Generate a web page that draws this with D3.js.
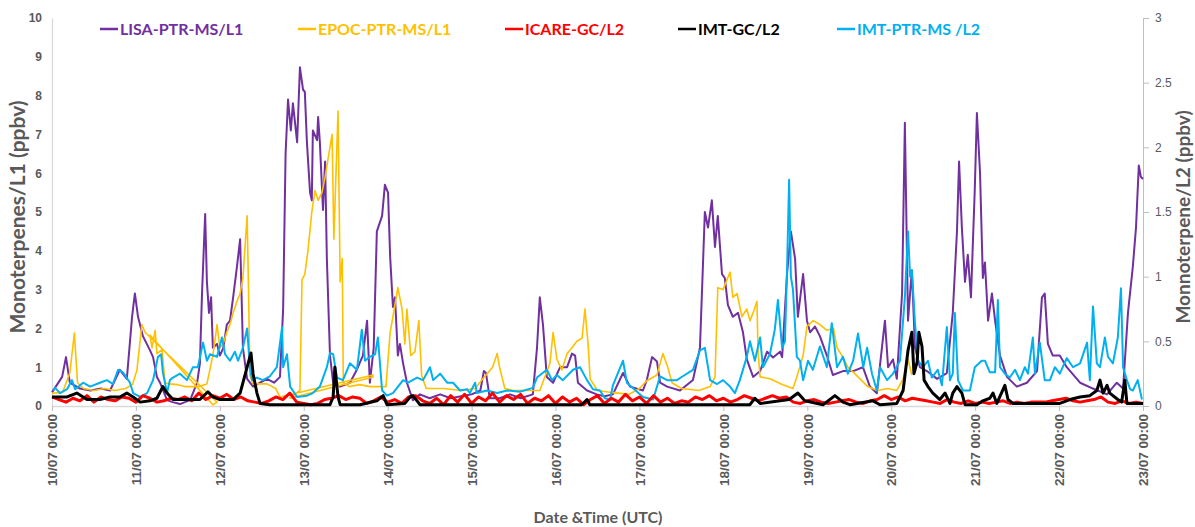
<!DOCTYPE html>
<html>
<head>
<meta charset="utf-8">
<script src="https://cdn.jsdelivr.net/npm/d3@7"></script>
<style>
  html, body { margin: 0; padding: 0; background: #ffffff; }
  svg { display: block; font-family: Lato, "Open Sans", "DejaVu Sans", sans-serif; }
</style>
</head>
<body>
<svg id="chart" width="1195" height="527"></svg>
<script>
// Time is given in hours since 10/07 00:00 (UTC).
const tickLabels = ["10/07 00:00","11/07 00:00","12/07 00:00","13/07 00:00","14/07 00:00","15/07 00:00","16/07 00:00",
  "17/07 00:00","18/07 00:00","19/07 00:00","20/07 00:00","21/07 00:00","22/07 00:00","23/07 00:00"];
const leftTicks = [0,1,2,3,4,5,6,7,8,9,10];
const rightTicks = [0,0.5,1,1.5,2,2.5,3];
const seriesNames = ["LISA-PTR-MS/L1","EPOC-PTR-MS/L1","ICARE-GC/L2","IMT-GC/L2","IMT-PTR-MS /L2"];

// LISA-PTR-MS, site L1 (ppbv) — [hour, value]
const lisa = [[0,0.35],[2.9,0.75],[4,1.26],[5.1,0.6],[8,0.45],[11,0.4],[14,0.45],[16.6,0.4],[19.4,0.93],[21.4,0.7],
  [22.9,2.3],[23.7,2.9],[24.6,2.3],[26,1.8],[28,1.44],[28.9,1.26],[30,0.75],[30.9,0.6],[32.9,0.15],[34.5,0.1],[36.6,0.05],
  [38,0.1],[39.5,0.15],[41.5,0.6],[42.3,1.1],[42.9,2.9],[43.8,4.95],[44.3,3.2],[44.9,2.4],[45.5,2.8],[46,1.5],[47.2,1.6],
  [48,1.3],[49,1.5],[50,2.1],[50.9,2.2],[51.8,2.8],[52.9,3.6],[53.8,4.3],[54.6,1.5],[55.8,0.7],[57.5,0.5],[59.5,0.6],
  [61.5,0.7],[63.5,0.6],[65.2,0.75],[66.1,2.5],[66.8,6.5],[67.5,7.9],[68.3,7.1],[68.9,7.8],[70.1,6.8],[70.9,8.73],
  [71.8,8.15],[72.3,8.1],[72.9,6.8],[73.8,5.5],[74.3,5.3],[74.6,7.1],[75.8,6.85],[76.1,7.45],[76.6,6.8],[77.5,5.05],
  [78.1,6.3],[78.6,3.8],[79.5,1.3],[80.4,0.6],[82.4,0.5],[85.2,0.6],[87,0.9],[88.9,1.3],[90.1,2.2],[90.9,0.6],[92,1.5],
  [92.9,4.5],[94.4,4.9],[95.2,5.7],[96.1,5.5],[96.7,3.85],[97.5,2.55],[98.1,2.8],[98.9,1.3],[99.5,1.6],[100.4,1.1],
  [101.5,0.6],[103.2,0.15],[105.2,0.3],[108,0.2],[111,0.3],[114,0.2],[117,0.25],[120,0.3],[122.5,0.4],[123.5,0.9],
  [124.1,0.85],[125.2,0.2],[128,0.2],[131,0.3],[134,0.2],[137.5,0.3],[138.7,1.5],[139.5,2.8],[140.4,2.1],[141.5,0.75],
  [143.3,0.6],[145.3,1.0],[147.3,1.0],[148.7,1.35],[149.6,1.3],[150.4,0.6],[153,0.4],[155.8,0.3],[158,0.25],[160.4,0.3],
  [163.3,0.85],[165.3,0.5],[169,0.4],[170.1,0.67],[171.6,1.26],[173,1.15],[173.9,0.6],[175.9,0.5],[179.6,0.4],[183.3,0.67],
  [185.3,1.5],[186.7,5.0],[187.6,4.6],[188.7,5.3],[189.6,4.1],[190.4,4.9],[191.6,3.4],[192.4,3.3],[193.3,2.6],[194.7,2.3],
  [196.2,2.4],[197.6,1.9],[198.7,1.2],[200.5,0.75],[202.5,0.9],[204.5,1.4],[206.2,1.25],[208.2,1.4],[208.8,1.26],
  [210.2,3.4],[211.3,4.5],[212.5,3.8],[213.3,2.3],[214.8,3.4],[215.9,2.2],[216.8,1.9],[218.2,2.05],[219.6,1.8],[221.6,1.3],
  [223.3,0.8],[226.2,0.9],[229.1,0.9],[231.9,1.0],[233.9,0.5],[235.9,0.33],[238.2,2.2],[239.1,1.0],[240.5,1.2],[241.6,0.7],
  [243.1,2.9],[243.9,7.3],[244.8,2.2],[245.9,3.5],[246.8,1.5],[248.2,1.0],[250.2,0.9],[253.1,0.7],[255.9,0.85],[257.6,2.4],
  [258.8,4.5],[259.4,6.3],[260.2,4.6],[261.1,3.2],[261.9,3.9],[262.8,2.8],[263.9,5.6],[264.5,7.55],[265.4,6.0],[266.2,3.3],
  [266.8,3.7],[267.7,2.2],[268.8,2.9],[269.7,2.2],[271.1,1.3],[273.1,0.75],[275.9,0.5],[278.8,0.6],[281.7,0.9],[283.1,2.8],
  [283.9,2.9],[284.8,1.6],[286.2,1.3],[288.2,1.3],[290.2,1.0],[294,0.6],[297.7,0.45],[301.7,0.3],[304.5,0.6],[306.3,0.45],
  [307.7,2.4],[309.1,3.6],[310,4.6],[310.8,6.2],[311.4,5.9],[312,5.85]];

// EPOC-PTR-MS, site L1 (ppbv) — rows kept in logged order (some rows are out of time order)
const epoc = [[0,0.33],[3,0.35],[5.1,0.85],[6.4,1.88],[7.3,0.6],[9,0.45],[12,0.4],[15,0.45],[18,0.4],[21,0.45],[23,0.55],
  [24.3,0.93],[25.7,2.1],[26.6,1.9],[47.2,0.1],[46,0.03],[28,1.83],[28.6,1.5],[29.5,1.95],[30,1.35],[31.5,1.45],[32.3,0.6],
  [33.5,0.57],[36,0.55],[38,0.5],[42,0.5],[44.3,0.57],[46,1.3],[47.2,2.1],[48,1.5],[48.9,1.6],[50,1.9],[50.9,2.1],
  [51.8,2.4],[52.9,2.7],[53.8,2.9],[54.6,3.3],[55.8,4.9],[56.1,3.5],[56.6,0.8],[57.5,0.57],[61.5,0.57],[64,0.45],
  [65.2,0.23],[91.8,0.8],[91.8,0.75],[68,0.2],[70.9,0.4],[71.5,3.25],[72.3,3.4],[73.2,4.0],[74.3,5.0],[75.2,5.55],
  [76.1,5.3],[77.2,5.5],[78.1,5.9],[79,6.4],[80.1,7.0],[80.6,4.3],[81.8,7.6],[82.4,3.2],[83,3.8],[83.3,0.6],[85,0.5],
  [88,0.55],[91,0.5],[94,0.5],[95.5,0.5],[96.7,1.9],[97.5,2.3],[98.9,3.05],[100.1,2.5],[100.9,1.6],[101.5,2.5],[102.6,1.3],
  [103.8,1.4],[104.9,2.2],[105.7,0.8],[107,0.45],[112,0.45],[117,0.4],[121,0.45],[123.2,0.7],[126,1.0],[127.3,1.35],
  [128,1.0],[129.5,0.45],[132,0.4],[137,0.4],[139.5,0.4],[142.4,1.1],[143.3,1.9],[144.4,1.2],[145.8,0.93],[147.3,1.35],
  [148.7,1.5],[150.1,1.67],[151.6,1.75],[152.4,2.5],[153.3,1.6],[153.9,0.7],[156,0.4],[160,0.35],[165,0.3],[168,0.45],
  [170.1,0.65],[173,0.8],[174.7,1.35],[176.1,1.0],[177.3,0.6],[180,0.45],[185,0.4],[188.2,0.5],[189.6,0.75],[190.4,3.05],
  [191.9,3.0],[193.9,3.45],[194.7,2.8],[195.9,2.9],[197.3,2.3],[198.7,2.5],[199.6,2.2],[200.5,2.4],[201.6,2.7],[201.9,1.4],
  [202.5,0.75],[205.3,0.7],[209,0.55],[211.9,0.45],[213,0.75],[214.8,1.3],[215.9,2.05],[217.7,2.2],[219.6,2.1],[221.6,1.95],
  [223.5,2.0],[224.5,1.5],[225.9,1.3],[227.6,1.0],[230.5,0.75],[233.3,0.5],[236,0.4],[239,0.45],[241.6,0.4],[243.4,0.7],
  [244.8,1.2],[245.9,0.8]];

// ICARE-GC, site L2 (ppbv) — one value every 2 hours from 10/07 00:00
const icareStepHours = 2;
const icare = [.07,.05,.03,.06,.04,.08,.03,.07,.05,.04, .07,.06,.03,.08,.06,.03,.04,.06,.05,.07,
  .04,.1,.05,.08,.06,.09,.05,.07,.04,.03, .02,.04,.07,.05,.1,.03,.02,.01,.02,.05,
  .06,.08,.05,.07,.06,.02,.04,.07,.03,.05, .02,.07,.08,.04,.02,.06,.01,.08,.03,.09,
  .02,.07,.04,.1,.03,.08,.05,.09,.02,.06, .04,.08,.02,.07,.03,.06,.01,.05,.08,.02,
  .06,.03,.09,.04,.07,.02,.08,.03,.06,.02, .04,.03,.07,.05,.08,.04,.06,.03,.05,.08,
  .06,.04,.06,.08,.06,.07,.03,.02,.04,.05, .03,.02,.03,.04,.05,.03,.02,.04,.05,.08,
  .05,.07,.04,.06,.05,.04,.03,.02,.05,.03, .02,.04,.02,.03,.02,.03,.04,.02,.03,.02,
  .03,.03,.03,.04,.05,.06,.04,.03,.04,.05, .07,.03,.02,.04,.02,.03,.02];

// IMT-GC, site L2 (ppbv) — [hour, value]
const imtGc = [[0,0.07],[4.3,0.07],[7.1,0.1],[10,0.05],[13.7,0.05],[16.6,0.07],[19.4,0.07],[21.4,0.1],[23.2,0.07],
  [25.2,0.03],[28,0.04],[30,0.06],[31.7,0.15],[32.9,0.1],[34.6,0.05],[38.6,0.05],[42.3,0.05],[44.6,0.11],[46,0.07],
  [48,0.05],[51.8,0.05],[53.8,0.1],[55.8,0.3],[56.9,0.41],[57.5,0.25],[58.6,0.1],[59.5,0.02],[62.3,0.01],[70.9,0.01],
  [79.5,0.01],[80.4,0.07],[80.9,0.3],[81.8,0.07],[82.4,0.01],[88.1,0.01],[92.9,0.04],[94.7,0.08],[95.8,0.01],[100.9,0.02],
  [102.4,0.07],[103.2,0.08],[104.4,0.04],[105.2,0.01],[130,0.01],[151.5,0.01],[153,0.05],[153.8,0.01],[180,0.01],
  [199.6,0.01],[201,0.06],[202.5,0.02],[210.8,0.05],[213.3,0.1],[215.3,0.04],[220.5,0.01],[223.9,0.08],[226.2,0.03],
  [228.2,0.01],[234.8,0.04],[236.8,0.01],[241.6,0.02],[243.4,0.12],[244.8,0.43],[245.9,0.57],[246.5,0.25],[247.4,0.34],
  [247.9,0.57],[248.8,0.46],[249.4,0.2],[250.5,0.15],[251.9,0.1],[253.9,0.05],[255.4,0.1],[256.8,0.02],[257.6,0.1],
  [258.8,0.15],[260.2,0.1],[261.1,0.01],[264.5,0.01],[266.2,0.04],[268.2,0.06],[269.1,0.1],[270.2,0.02],[272.5,0.16],
  [273.4,0.05],[274.8,0.02],[288.2,0.02],[291.1,0.05],[294,0.07],[296.8,0.08],[298.8,0.12],[299.7,0.2],[300.6,0.1],
  [301.7,0.16],[302.5,0.1],[304.8,0.05],[305.9,0.03],[306.8,0.2],[307.4,0.02],[312,0.02]];

// IMT-PTR-MS, site L2 (ppbv) — [hour, value]
const imtPtr = [[0.3,0.12],[0.9,0.14],[2.3,0.1],[4.3,0.13],[5.7,0.2],[6.6,0.13],[8.9,0.18],[10.9,0.15],[13.7,0.18],
  [15.7,0.2],[17.4,0.17],[18.9,0.28],[20.3,0.26],[22.3,0.18],[23.2,0.1],[25.2,0.07],[27.2,0.1],[28.9,0.2],[30.3,0.38],
  [31.2,0.4],[31.7,0.26],[32.9,0.1],[33.7,0.2],[34.6,0.22],[36.6,0.25],[38.6,0.2],[40.3,0.3],[41.7,0.3],[43.2,0.49],
  [44.3,0.35],[45.2,0.4],[47.2,0.38],[48.6,0.53],[49.5,0.4],[50.9,0.35],[52.3,0.42],[53.2,0.35],[54.6,0.45],[55.8,0.6],
  [56.6,0.3],[57.2,0.2],[58.6,0.22],[60.3,0.2],[62.3,0.23],[64.3,0.3],[65.8,0.61],[66.1,0.3],[67.2,0.4],[68.1,0.15],
  [70.1,0.07],[72.9,0.08],[74.6,0.1],[76.6,0.15],[78.6,0.3],[79.5,0.41],[80.4,0.4],[81.5,0.22],[83.2,0.2],[85.2,0.33],
  [87.2,0.28],[88.6,0.59],[89.5,0.35],[90.9,0.38],[92.4,0.4],[93.2,0.53],[94.4,0.12],[95.8,0.08],[97.5,0.1],[100.4,0.2],
  [101.8,0.18],[104.4,0.22],[106.1,0.2],[108.1,0.3],[109,0.2],[111,0.25],[113,0.18],[114.7,0.18],[116.7,0.12],[118.7,0.13],
  [119.5,0.1],[121,0.18],[121.5,0.1],[124.4,0.12],[127.3,0.1],[130.1,0.12],[133.8,0.11],[137.5,0.14],[138.7,0.22],
  [141.5,0.28],[143,0.2],[144.4,0.24],[146.1,0.2],[149,0.28],[151,0.3],[153,0.2],[154.7,0.13],[156.7,0.12],[158.1,0.06],
  [159.6,0.05],[160.4,0.16],[163.3,0.35],[164.4,0.18],[166.1,0.14],[169,0.07],[171.9,0.05],[173.9,0.23],[175.9,0.2],
  [178.7,0.2],[180.4,0.23],[183.3,0.28],[185.3,0.43],[186.7,0.45],[188.2,0.2],[190.2,0.17],[191.9,0.2],[193.9,0.15],
  [195.3,0.1],[196.7,0.2],[198.7,0.38],[199.6,0.5],[201,0.35],[202.5,0.53],[203.3,0.3],[205.3,0.4],[206.7,0.59],
  [207.6,0.82],[208.8,0.45],[209.6,0.5],[210.2,1.05],[210.8,1.75],[211.3,1.0],[211.9,0.9],[213,0.38],[213.9,0.35],
  [214.8,0.2],[216.2,0.35],[217.6,0.28],[219.6,0.46],[221.6,0.3],[223,0.64],[224.5,0.3],[226.2,0.38],[227.6,0.25],
  [229.1,0.35],[230.5,0.56],[232,0.3],[233.1,0.45],[234.5,0.25],[235.9,0.12],[236.8,0.3],[238.8,0.2],[240.5,0.25],
  [242.5,0.35],[243.9,0.84],[244.8,1.35],[245.4,1.0],[245.9,1.05],[246.8,0.64],[247.7,0.35],[249.1,0.3],[250.5,0.35],
  [251.6,0.22],[253.3,0.28],[254.5,0.16],[255.9,0.61],[256.8,0.2],[257.6,0.25],[258.2,0.72],[259.1,0.2],[260.5,0.12],
  [262.5,0.12],[263.9,0.3],[265.9,0.35],[266.8,0.35],[268.2,0.26],[269.7,0.26],[270.5,0.82],[271.1,0.3],[272.5,0.25],
  [273.9,0.22],[275.4,0.28],[276.8,0.2],[278.2,0.3],[279.1,0.25],[280.5,0.53],[281.1,0.25],[282.5,0.49],[283.9,0.2],
  [285.4,0.2],[286.8,0.3],[288.2,0.25],[290.2,0.37],[292,0.3],[294,0.33],[296,0.49],[296.8,0.2],[297.7,0.77],[298.8,0.33],
  [299.7,0.3],[301.1,0.53],[302,0.38],[303.4,0.33],[304.8,0.53],[305.7,0.91],[306.3,0.3],[307.4,0.2],[308.3,0.13],
  [309.1,0.12],[310.5,0.2],[311.7,0.05]];

// ---- drawing ----
const svg = d3.select("#chart");
const plot = { left: 52, right: 1143, top: 18, bottom: 406 };
const textGrey = "#595959";

const x = d3.scaleLinear().domain([0, (tickLabels.length - 1) * 24]).range([plot.left, plot.right]);
const yL = d3.scaleLinear().domain([0, 10]).range([plot.bottom, plot.top]);
const yR = d3.scaleLinear().domain([0, 3]).range([plot.bottom, plot.top]);

// left axis (L1)
const gL = svg.append("g").attr("transform", `translate(${plot.left},0)`)
  .call(d3.axisLeft(yL).tickValues(leftTicks).tickSize(0).tickPadding(10).tickFormat(d3.format("d")));
gL.select(".domain").attr("stroke", "#d9d9d9").attr("stroke-width", 1.3);
gL.selectAll("text").attr("fill", textGrey).style("font-size", "12px").style("font-weight", "bold");

// right axis (L2)
const gR = svg.append("g").attr("transform", `translate(${plot.right},0)`)
  .call(d3.axisRight(yR).tickValues(rightTicks).tickSizeInner(6).tickSizeOuter(0).tickPadding(6).tickFormat(d => String(d)));
gR.select(".domain").attr("stroke", "#bfbfbf").attr("stroke-width", 1);
gR.selectAll(".tick line").attr("stroke", "#bfbfbf");
gR.selectAll("text").attr("fill", textGrey).style("font-size", "12px");

// bottom axis with rotated date labels
const gX = svg.append("g").attr("transform", `translate(0,${plot.bottom})`)
  .call(d3.axisBottom(x).tickValues(tickLabels.map((_, i) => i * 24)).tickSizeInner(5).tickSizeOuter(0)
    .tickFormat((d, i) => tickLabels[i]));
gX.select(".domain").attr("stroke", "#d9d9d9").attr("stroke-width", 1.5);
gX.selectAll(".tick line").attr("stroke", "#bfbfbf");
gX.selectAll("text")
  .attr("fill", textGrey).style("font-size", "13.5px").style("font-weight", "bold")
  .attr("transform", "rotate(-90)").attr("text-anchor", "end")
  .attr("x", -8).attr("y", 0).attr("dy", "0.35em");

// axis titles
svg.append("text").attr("x", 598).attr("y", 523).attr("text-anchor", "middle")
  .attr("fill", textGrey).style("font-size", "16px").style("font-weight", "bold")
  .text("Date &Time (UTC)");
svg.append("text").attr("transform", "translate(25,217) rotate(-90)").attr("text-anchor", "middle")
  .attr("fill", textGrey).style("font-size", "21px").style("font-weight", "bold")
  .text("Monoterpenes/L1 (ppbv)");
svg.append("text").attr("transform", "translate(1190,217) rotate(-90)").attr("text-anchor", "middle")
  .attr("fill", textGrey).style("font-size", "19px").style("font-weight", "bold")
  .text("Monnoterpene/L2 (ppbv)");

// series
const lineL = d3.line().x(d => x(d[0])).y(d => yL(d[1]));
const lineR = d3.line().x(d => x(d[0])).y(d => yR(d[1]));
const icarePts = icare.map((v, i) => [i * icareStepHours, v]);

const layers = [
  { data: lisa,     gen: lineL, color: "#7030A0", width: 2 },
  { data: epoc,     gen: lineL, color: "#FFC000", width: 1.6 },
  { data: imtPtr,   gen: lineR, color: "#00B0F0", width: 2 },
  { data: icarePts, gen: lineR, color: "#FF0000", width: 3 },
  { data: imtGc,    gen: lineR, color: "#000000", width: 3 }
];
svg.append("g").selectAll("path").data(layers).join("path")
  .attr("d", d => d.gen(d.data))
  .attr("fill", "none")
  .attr("stroke", d => d.color)
  .attr("stroke-width", d => d.width)
  .attr("stroke-linejoin", "round");

// legend
const legendColors = ["#7030A0", "#FFC000", "#FF0000", "#000000", "#00B0F0"];
const legendX = [100, 298, 505, 678, 837];
const lg = svg.append("g").selectAll("g").data(seriesNames).join("g")
  .attr("transform", (d, i) => `translate(${legendX[i]},29)`);
lg.append("line").attr("x1", 0).attr("x2", 18).attr("y1", 0).attr("y2", 0)
  .attr("stroke", (d, i) => legendColors[i]).attr("stroke-width", 2.5);
lg.append("text").attr("x", 20).attr("y", 0).attr("dy", "0.35em")
  .attr("fill", (d, i) => legendColors[i]).style("font-size", "16px").style("font-weight", "bold")
  .text(d => d);
</script>
</body>
</html>
